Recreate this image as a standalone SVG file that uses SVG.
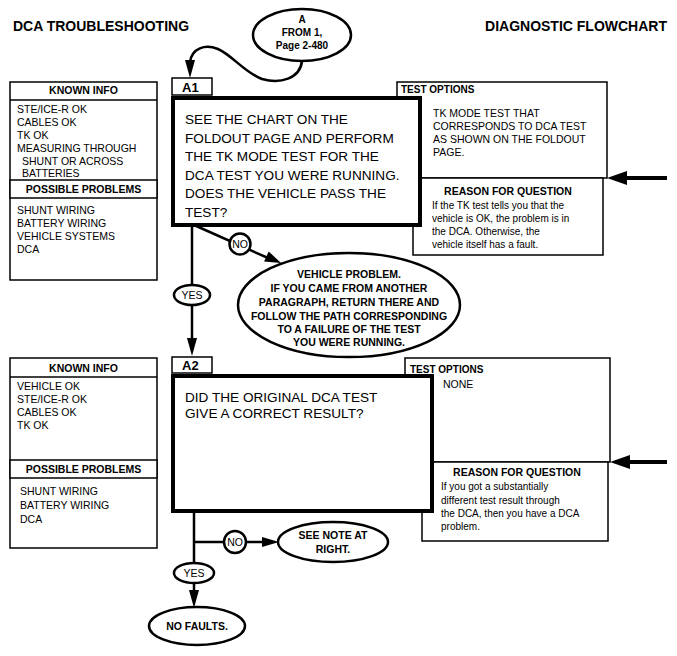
<svg xmlns="http://www.w3.org/2000/svg" width="677" height="656" viewBox="0 0 677 656">
<style>
text{font-family:"Liberation Sans",Arial,sans-serif;fill:#000}
.t{font-size:14px;font-weight:bold}
.h{font-size:10.5px;font-weight:bold}
.i{font-size:10.5px}
.q{font-size:13.6px}
.s{font-size:10px}
.ob{font-size:10.5px;font-weight:bold}
.c{text-anchor:middle}
.box{fill:#fff;stroke:#000;stroke-width:1.5}
.thick{fill:#fff;stroke:#000;stroke-width:4}
.ov{fill:#fff;stroke:#000;stroke-width:2.5}
.ln{fill:none;stroke:#000;stroke-width:2.5}
.ah{fill:#000}
</style>
<text class="t" x="13" y="31">DCA TROUBLESHOOTING</text>
<text class="t" x="667" y="31" text-anchor="end">DIAGNOSTIC FLOWCHART</text>

<g id="connectors">
<path class="ln" d="M302 61 C300 79 280 84 262 79 C245 73 232 55 218 49 C205 44 192 48 190 62"/>
<polygon class="ah" points="190,78 185,60 195,60"/>
<line class="ln" x1="192" y1="225" x2="192" y2="340"/>
<polygon class="ah" points="192,356 187,338 197,338"/>
<line class="ln" x1="194" y1="225" x2="268" y2="258"/>
<polygon class="ah" points="281,263 264.1,261.4 268.7,251.4"/>
<line x1="667" y1="178" x2="625" y2="178" stroke="#000" stroke-width="4"/>
<polygon class="ah" points="607,178 627,171 627,185"/>
<line x1="667" y1="462" x2="628" y2="462" stroke="#000" stroke-width="4"/>
<polygon class="ah" points="610,462 630,455 630,469"/>
<line class="ln" x1="194" y1="513" x2="194" y2="592"/>
<polygon class="ah" points="194,608 189,590 199,590"/>
<line class="ln" x1="194" y1="542" x2="264" y2="542"/>
<polygon class="ah" points="279,542 262,537 262,547"/>
</g>

<g id="oval-a">
<ellipse class="ov" cx="302" cy="35" rx="49" ry="26"/>
<text class="s c" x="302" y="23" font-weight="bold">A</text>
<text class="s c" x="302" y="36" font-weight="bold">FROM 1,</text>
<text class="s c" x="302" y="49" font-weight="bold">Page 2-480</text>
</g>

<g id="known1">
<rect class="box" x="10" y="82" width="147" height="198"/>
<line x1="10" y1="100" x2="157" y2="100" stroke="#000" stroke-width="1.5"/>
<rect class="box" x="10" y="180" width="147" height="18"/>
<text class="h c" x="83.5" y="94">KNOWN INFO</text>
<text class="i" x="17" y="113">STE/ICE-R OK</text>
<text class="i" x="17" y="126">CABLES OK</text>
<text class="i" x="17" y="139">TK OK</text>
<text class="i" x="17" y="152">MEASURING THROUGH</text>
<text class="i" x="22" y="165">SHUNT OR ACROSS</text>
<text class="i" x="22" y="177">BATTERIES</text>
<text class="h c" x="83.5" y="193">POSSIBLE PROBLEMS</text>
<text class="i" x="17" y="214">SHUNT WIRING</text>
<text class="i" x="17" y="227">BATTERY WIRING</text>
<text class="i" x="17" y="240">VEHICLE SYSTEMS</text>
<text class="i" x="17" y="253">DCA</text>
</g>

<g id="options1">
<rect class="box" x="397" y="82" width="210" height="96"/>
<text class="s" x="401" y="93" font-weight="bold">TEST OPTIONS</text>
<text class="i" x="433" y="117">TK MODE TEST THAT</text>
<text class="i" x="433" y="130">CORRESPONDS TO DCA TEST</text>
<text class="i" x="433" y="143">AS SHOWN ON THE FOLDOUT</text>
<text class="i" x="433" y="156">PAGE.</text>
</g>
<g id="reason1">
<rect class="box" x="413" y="178" width="190" height="77"/>
<text class="h c" x="508" y="195">REASON FOR QUESTION</text>
<text class="s" x="432" y="209">If the TK test tells you that the</text>
<text class="s" x="432" y="222">vehicle is OK, the problem is in</text>
<text class="s" x="432" y="235">the DCA.  Otherwise, the</text>
<text class="s" x="432" y="248">vehicle itself has a fault.</text>
</g>

<g id="a1">
<rect class="box" x="172" y="78" width="40" height="17"/>
<text x="182" y="92" font-size="13" font-weight="bold">A1</text>
<rect class="thick" x="173" y="98" width="247" height="127"/>
<text class="q" x="185" y="124">SEE THE CHART ON THE</text>
<text class="q" x="185" y="142.6">FOLDOUT PAGE AND PERFORM</text>
<text class="q" x="185" y="161.2">THE TK MODE TEST FOR THE</text>
<text class="q" x="185" y="179.8">DCA TEST YOU WERE RUNNING.</text>
<text class="q" x="185" y="198.4">DOES THE VEHICLE PASS THE</text>
<text class="q" x="185" y="217">TEST?</text>
</g>

<g id="no1">
<circle class="ov" cx="240" cy="244" r="10.5"/>
<text class="i c" x="240" y="248">NO</text>
</g>
<g id="yes1">
<ellipse class="ov" cx="192" cy="295" rx="18" ry="10"/>
<text class="i c" x="192" y="299">YES</text>
</g>

<g id="vehicle-problem">
<ellipse class="ov" cx="349" cy="305" rx="111" ry="52"/>
<text class="ob c" x="349" y="278">VEHICLE PROBLEM.</text>
<text class="ob c" x="349" y="292">IF YOU CAME FROM ANOTHER</text>
<text class="ob c" x="349" y="306">PARAGRAPH, RETURN THERE AND</text>
<text class="ob c" x="349" y="320">FOLLOW THE PATH CORRESPONDING</text>
<text class="ob c" x="349" y="333">TO A FAILURE OF THE TEST</text>
<text class="ob c" x="349" y="346">YOU WERE RUNNING.</text>
</g>

<g id="known2">
<rect class="box" x="10" y="358" width="147" height="190"/>
<line x1="10" y1="377" x2="157" y2="377" stroke="#000" stroke-width="1.5"/>
<rect class="box" x="10" y="460" width="147" height="18"/>
<text class="h c" x="83.5" y="372">KNOWN INFO</text>
<text class="i" x="17" y="390">VEHICLE OK</text>
<text class="i" x="17" y="403">STE/ICE-R OK</text>
<text class="i" x="17" y="416">CABLES OK</text>
<text class="i" x="17" y="429">TK OK</text>
<text class="h c" x="83.5" y="473">POSSIBLE PROBLEMS</text>
<text class="i" x="20" y="495">SHUNT WIRING</text>
<text class="i" x="20" y="509">BATTERY WIRING</text>
<text class="i" x="20" y="523">DCA</text>
</g>

<g id="options2">
<rect class="box" x="405" y="358" width="205" height="104"/>
<text class="s" x="410" y="373" font-weight="bold">TEST OPTIONS</text>
<text class="i" x="443" y="388">NONE</text>
</g>
<g id="reason2">
<rect class="box" x="422" y="462" width="186" height="79"/>
<text class="h c" x="517" y="476">REASON FOR QUESTION</text>
<text class="s" x="441" y="490">If you got a substantially</text>
<text class="s" x="441" y="504">different test result through</text>
<text class="s" x="441" y="517">the DCA, then you have a DCA</text>
<text class="s" x="441" y="530">problem.</text>
</g>

<g id="a2">
<rect class="box" x="172" y="357" width="40" height="16"/>
<text x="182" y="370" font-size="13" font-weight="bold">A2</text>
<rect class="thick" x="173" y="376" width="259" height="135"/>
<text class="q" x="185" y="402">DID THE ORIGINAL DCA TEST</text>
<text class="q" x="185" y="418">GIVE A CORRECT RESULT?</text>
</g>

<g id="no2">
<circle class="ov" cx="235" cy="542" r="11"/>
<text class="i c" x="235" y="546">NO</text>
</g>
<g id="yes2">
<ellipse class="ov" cx="194" cy="573" rx="20" ry="10"/>
<text class="i c" x="194" y="577">YES</text>
</g>
<g id="see-note">
<ellipse class="ov" cx="333" cy="542" rx="55" ry="20"/>
<text class="ob c" x="333" y="539">SEE NOTE AT</text>
<text class="ob c" x="333" y="553">RIGHT.</text>
</g>
<g id="no-faults">
<ellipse class="ov" cx="197" cy="626" rx="48" ry="19"/>
<text class="ob c" x="197" y="630">NO FAULTS.</text>
</g>
</svg>
